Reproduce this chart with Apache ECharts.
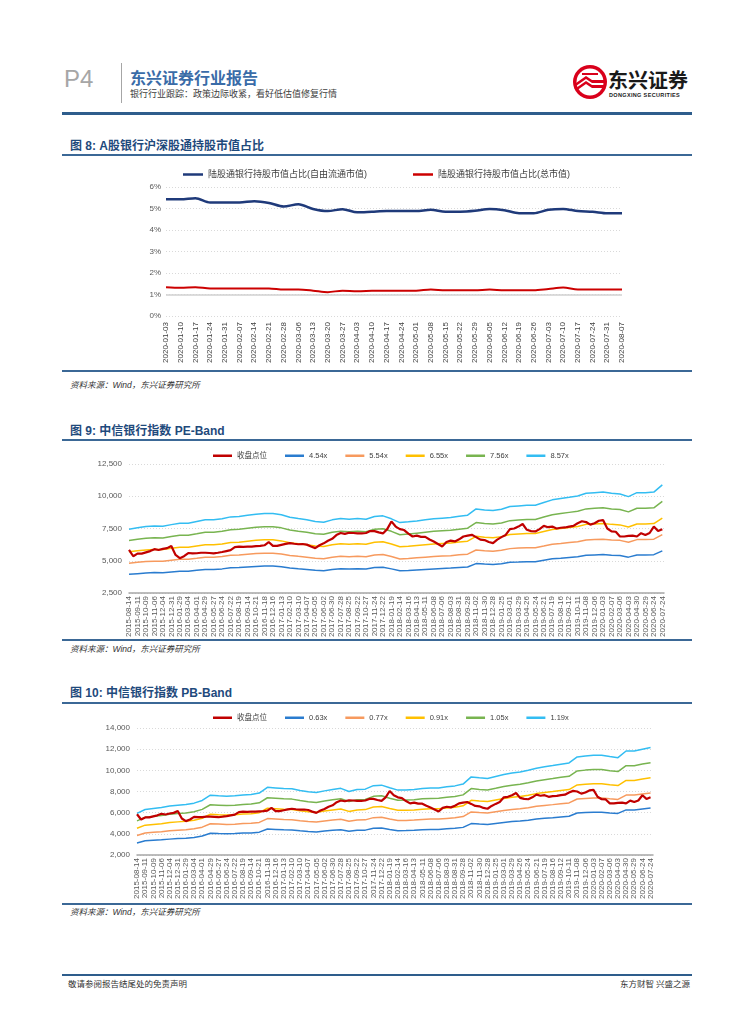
<!DOCTYPE html>
<html><head><meta charset="utf-8">
<script src="https://cdn.jsdelivr.net/npm/echarts@6/dist/echarts.min.js"></script>
<style>
html,body{margin:0;padding:0;background:#fff;}
body{width:755px;height:1024px;position:relative;overflow:hidden;font-family:"Noto Sans CJK SC","Liberation Sans",sans-serif;}
.abs{position:absolute;white-space:nowrap;line-height:1;}
.hl{position:absolute;left:62px;width:630px;}
.ftitle{left:70px;font-size:12px;font-weight:bold;color:#1f4a7c;font-family:"Liberation Sans","Noto Sans CJK SC",sans-serif;}
.src{left:70px;font-size:8.5px;font-style:italic;color:#333;font-family:"Liberation Sans","Noto Sans CJK SC",sans-serif;}
.chart{position:absolute;left:60px;width:640px;}
</style></head><body>

<div class="abs" style="left:64px;top:67px;font-size:24px;color:#a6a6a6;font-family:'Liberation Sans',sans-serif;">P4</div>
<div class="abs" style="left:121px;top:63px;width:1px;height:40px;background:#a6a6a6;"></div>
<div class="abs" style="left:130px;top:69px;font-size:16px;font-weight:bold;color:#3a6ca8;">东兴证券行业报告</div>
<div class="abs" style="left:130px;top:89px;font-size:9px;color:#404040;">银行行业跟踪：政策边际收紧，看好低估值修复行情</div>

<svg class="abs" style="left:572px;top:64px;" width="36" height="36" viewBox="0 0 36 36">
  <circle cx="18" cy="18" r="17" fill="#d9001b"/>
  <circle cx="18" cy="18" r="13.5" fill="#fff"/>
  <path d="M4 19 L14 12 L20 16 L32 16 L32 19 L20 19 L14 15 L4 22 Z" fill="#d9001b"/>
  <path d="M4 24 L14 17 L20 21 L32 21 L32 24 L20 24 L14 20 L4 27 Z" fill="#d9001b"/>
  <path d="M10 9 L26 9 L26 11 L10 11 Z" fill="#d9001b"/>
</svg>
<div class="abs" style="left:608px;top:70px;font-size:20px;font-weight:bold;color:#1a1a1a;">东兴证券</div>
<div class="abs" style="left:609px;top:93px;font-size:5.5px;font-weight:bold;color:#1a1a1a;letter-spacing:0.35px;font-family:'Liberation Sans',sans-serif;">DONGXING SECURITIES</div>

<div class="hl" style="top:112px;height:3px;background:#2e5d8c;"></div>

<div class="abs ftitle" style="top:140px;">图 8: A股银行沪深股通持股市值占比</div>
<div class="hl" style="top:154px;height:1.5px;background:#3b6896;"></div>
<div id="c8" class="chart" style="top:158px;height:212px;"></div>
<div class="hl" style="top:370px;height:1.5px;background:#3b6896;"></div>
<div class="abs src" style="top:381px;">资料来源：Wind，东兴证券研究所</div>

<div class="abs ftitle" style="top:425px;">图 9: 中信银行指数 PE-Band</div>
<div class="hl" style="top:439px;height:1.5px;background:#3b6896;"></div>
<div id="c9" class="chart" style="top:443px;height:196px;"></div>
<div class="hl" style="top:639px;height:1.5px;background:#3b6896;"></div>
<div class="abs src" style="top:645px;">资料来源：Wind，东兴证券研究所</div>

<div class="abs ftitle" style="top:687px;">图 10: 中信银行指数 PB-Band</div>
<div class="hl" style="top:702px;height:1.5px;background:#3b6896;"></div>
<div id="c10" class="chart" style="top:705px;height:198px;"></div>
<div class="hl" style="top:903px;height:1.5px;background:#3b6896;"></div>
<div class="abs src" style="top:908px;">资料来源：Wind，东兴证券研究所</div>

<div class="hl" style="top:974px;height:2px;background:#2e5d8c;"></div>
<div class="abs" style="left:68px;top:979px;font-size:8.5px;color:#333;">敬请参阅报告结尾处的免责声明</div>
<div class="abs" style="right:65px;top:979px;font-size:8.5px;color:#333;">东方财智 兴盛之源</div>

<script>
// ---------- Figure 8 data ----------
const dates8 = ['2020-01-03','2020-01-10','2020-01-17','2020-01-24','2020-01-31','2020-02-07','2020-02-14','2020-02-21','2020-02-28','2020-03-06','2020-03-13','2020-03-20','2020-03-27','2020-04-03','2020-04-10','2020-04-17','2020-04-24','2020-05-01','2020-05-08','2020-05-15','2020-05-22','2020-05-29','2020-06-05','2020-06-12','2020-06-19','2020-06-26','2020-07-03','2020-07-10','2020-07-17','2020-07-24','2020-07-31','2020-08-07'];
const shareFree = [5.43,5.43,5.48,5.28,5.28,5.28,5.34,5.26,5.09,5.20,4.98,4.88,4.97,4.82,4.85,4.88,4.88,4.88,4.94,4.85,4.85,4.89,4.98,4.92,4.78,4.78,4.94,4.98,4.88,4.85,4.78,4.78];
const shareTotal = [1.34,1.31,1.34,1.28,1.28,1.28,1.28,1.28,1.23,1.23,1.18,1.11,1.18,1.15,1.17,1.18,1.18,1.18,1.23,1.20,1.20,1.20,1.23,1.20,1.20,1.20,1.26,1.32,1.23,1.23,1.23,1.23];
const yTicks8 = [0, 6, 1];

// ---------- Figure 9/10 shared tick labels ----------
const bandLabels = ['2015-08-14','2015-09-11','2015-10-09','2015-11-06','2015-12-04','2015-12-31','2016-01-29','2016-03-04','2016-04-01','2016-04-29','2016-05-27','2016-06-24','2016-07-22','2016-08-19','2016-09-14','2016-10-21','2016-11-18','2016-12-16','2017-01-13','2017-02-10','2017-03-10','2017-04-07','2017-05-05','2017-06-02','2017-06-30','2017-07-28','2017-08-25','2017-09-22','2017-10-27','2017-11-24','2017-12-22','2018-01-19','2018-02-14','2018-03-16','2018-04-13','2018-05-11','2018-06-08','2018-07-06','2018-08-03','2018-08-31','2018-09-28','2018-11-02','2018-11-30','2018-12-28','2019-01-25','2019-03-01','2019-03-29','2019-04-26','2019-05-24','2019-06-21','2019-07-19','2019-08-16','2019-09-12','2019-10-11','2019-11-08','2019-12-06','2020-01-03','2020-02-07','2020-03-06','2020-04-03','2020-04-30','2020-05-29','2020-06-24','2020-07-24'];

// index close, sampled twice per tick label interval
const closeIdx = [
5850,5350, 5550,5550, 5650,5750, 5900,5830, 5920,5980, 6150,5450, 5200,5350, 5600,5570, 5580,5620, 5620,5600,
5570,5620, 5680,5750, 5820,6050, 6100,6080, 6090,6100, 6130,6150, 6200,6450, 6150,6150, 6230,6310, 6370,6320,
6280,6300, 6250,6100, 5980,6200, 6350,6550, 6700,6990, 7150,7080, 7170,7150, 7120,7120, 7150,7300, 7300,7200,
7120,7450, 8050,7650, 7450,7380, 7100,6880, 6950,6850, 6850,6650, 6490,6300, 6110,6450, 6560,6500, 6660,6880,
6950,7010, 6830,6640, 6600,6450, 6370,6640, 6830,7000, 7450,7500, 7650,7850, 7400,7300, 7270,7450, 7700,7600,
7650,7500, 7560,7580, 7650,7700, 7910,8060, 8000,7800, 7910,8100, 8150,7500, 7270,7250, 6880,6880, 6930,6950,
6880,7140, 7000,7150, 7650,7300, 7450];

// ---------- Figure 9: PE bands (one value per tick label) ----------
const pe454 = [3950,4000,4050,4080,4070,4130,4190,4190,4260,4330,4330,4370,4450,4470,4520,4560,4590,4590,4540,4440,4380,4330,4260,4230,4330,4380,4360,4380,4360,4470,4490,4370,4220,4250,4290,4330,4370,4400,4430,4480,4520,4780,4740,4710,4760,4880,4900,4930,4930,5040,5150,5200,5260,5310,5420,5450,5480,5420,5400,5280,5450,5450,5470,5770];
const pe554 = [4810,4880,4940,4970,4960,5040,5110,5110,5190,5280,5280,5330,5430,5450,5510,5560,5590,5590,5530,5410,5340,5280,5190,5160,5280,5340,5310,5340,5310,5450,5480,5330,5140,5180,5230,5280,5330,5360,5390,5460,5510,5830,5780,5740,5810,5940,5980,6010,6010,6140,6280,6340,6410,6480,6610,6640,6670,6610,6580,6440,6640,6640,6670,7030];
const pe655 = [5690,5770,5840,5880,5870,5960,6040,6040,6140,6240,6240,6300,6420,6440,6520,6580,6620,6620,6540,6400,6320,6240,6140,6100,6240,6320,6280,6320,6280,6440,6480,6300,6080,6120,6180,6240,6300,6340,6380,6460,6520,6890,6830,6790,6870,7030,7070,7110,7110,7270,7430,7500,7580,7660,7820,7850,7890,7820,7780,7620,7850,7850,7880,8310];
const pe756 = [6570,6660,6750,6790,6770,6880,6980,6980,7090,7210,7210,7280,7410,7440,7520,7590,7640,7640,7550,7390,7290,7210,7090,7050,7210,7290,7250,7290,7250,7440,7480,7280,7020,7070,7140,7210,7280,7320,7360,7450,7520,7960,7890,7840,7930,8110,8160,8200,8200,8390,8570,8660,8750,8840,9020,9070,9110,9020,8980,8790,9070,9070,9100,9600];
const pe857 = [7450,7550,7650,7700,7680,7800,7910,7910,8040,8170,8170,8250,8400,8430,8530,8610,8660,8660,8560,8375,8270,8170,8040,7990,8170,8270,8220,8270,8220,8430,8480,8250,7960,8015,8090,8170,8250,8300,8350,8450,8530,9020,8940,8890,8990,9200,9250,9300,9300,9510,9720,9820,9920,10025,10230,10280,10330,10230,10180,9970,10280,10280,10320,10880];
const yTicks9 = [2500, 12500, 2500];

// ---------- Figure 10: PB bands ----------
const pb063 = [3140,3340,3390,3440,3500,3550,3580,3650,3790,4050,4020,4000,4020,4070,4090,4160,4450,4420,4380,4370,4290,4220,4180,4270,4340,4390,4240,4340,4350,4530,4550,4420,4300,4310,4340,4380,4410,4420,4470,4520,4610,4970,4920,4880,4980,5080,5160,5210,5290,5400,5470,5530,5600,5660,5970,6010,6050,6050,5980,5930,6260,6260,6350,6430];
const pb077 = [3840,4080,4140,4200,4280,4340,4380,4470,4630,4950,4920,4890,4910,4970,5000,5080,5440,5400,5360,5340,5240,5160,5110,5220,5300,5370,5180,5300,5320,5530,5570,5400,5260,5270,5300,5360,5390,5400,5460,5520,5630,6070,6010,5970,6090,6210,6310,6370,6470,6600,6680,6760,6850,6920,7290,7340,7390,7390,7310,7250,7660,7660,7770,7860];
const pb091 = [4530,4820,4890,4960,5060,5130,5180,5280,5470,5850,5810,5780,5800,5870,5900,6000,6420,6380,6330,6310,6190,6090,6040,6160,6260,6350,6120,6260,6290,6540,6580,6390,6220,6230,6260,6330,6370,6380,6450,6520,6650,7170,7100,7050,7200,7340,7460,7530,7650,7800,7900,7990,8090,8180,8620,8680,8730,8730,8640,8560,9050,9050,9180,9290];
const pb105 = [5230,5560,5650,5730,5840,5920,5970,6090,6310,6750,6710,6670,6700,6780,6810,6930,7410,7360,7310,7280,7150,7030,6970,7110,7230,7320,7060,7230,7250,7540,7590,7370,7170,7190,7230,7310,7350,7360,7450,7530,7680,8280,8200,8140,8300,8470,8600,8690,8820,9000,9120,9220,9340,9440,9940,10020,10080,10080,9970,9880,10440,10440,10590,10720];
const pb119 = [5930,6300,6400,6490,6620,6710,6770,6900,7150,7650,7600,7560,7590,7680,7720,7850,8400,8340,8280,8250,8100,7970,7900,8060,8190,8300,8000,8190,8220,8550,8600,8350,8130,8150,8190,8280,8330,8340,8440,8530,8700,9380,9290,9220,9410,9600,9750,9850,10000,10200,10330,10450,10580,10700,11270,11350,11420,11420,11300,11200,11830,11830,12000,12150];
const yTicks10 = [2000, 14000, 2000];

const FONT = '"Liberation Sans","Noto Sans CJK SC",sans-serif';
const bandColors = ['#2a7ccf','#f79a5e','#ffc000','#78b450','#33bdf2'];

// ---------- Figure 8 ----------
const c8 = echarts.init(document.getElementById('c8'));
c8.setOption({
  animation:false,
  grid:{left:106,right:78,top:29,bottom:54,outerBoundsMode:'none'},
  legend:{left:118,top:7,icon:'rect',itemWidth:20,itemHeight:2.5,itemGap:46,
    textStyle:{fontSize:9,color:'#404040',fontFamily:FONT}},
  xAxis:{type:'category',data:dates8,boundaryGap:false,
    axisLine:{show:false},axisTick:{show:false},splitLine:{show:false},
    axisLabel:{rotate:90,interval:0,fontSize:8,color:'#404040',margin:6,fontFamily:FONT}},
  yAxis:{type:'value',min:yTicks8[0],max:yTicks8[1],interval:yTicks8[2],
    axisLine:{show:false},axisTick:{show:false},
    splitLine:{lineStyle:{color:'#d9d9d9',type:[1,2],width:1}},
    axisLabel:{formatter:'{value}%',fontSize:8,color:'#595959',margin:5,fontFamily:FONT}},
  series:[
    {name:'陆股通银行持股市值占比(自由流通市值)',type:'line',data:shareFree,symbol:'none',smooth:0.3,
      lineStyle:{color:'#1f3a7a',width:2.5},itemStyle:{color:'#1f3a7a'}},
    {name:'陆股通银行持股市值占比(总市值)',type:'line',data:shareTotal,symbol:'none',smooth:0.3,
      lineStyle:{color:'#cc0000',width:2},itemStyle:{color:'#cc0000'},
      markLine:{silent:true,symbol:'none',label:{show:false},
        lineStyle:{color:'#d0d0d0',type:'solid',width:1.5},data:[{yAxis:1}]}}
  ]
});

// ---------- helpers for band charts ----------
function labelFmt(v){
  const r = Math.round(v);
  return (Math.abs(v - r) < 1e-6 && r >= 0 && r < bandLabels.length) ? bandLabels[r] : '';
}
function bandOption(grid, xmax, yt, names, bands){
  const series = [{
    name:'收盘点位',type:'line',symbol:'none',z:4,
    data:closeIdx.map((v,j)=>[j/2,v]),
    lineStyle:{color:'#c00000',width:2.2},itemStyle:{color:'#c00000'}
  }];
  bands.forEach((arr,k)=>{
    series.push({name:names[k],type:'line',symbol:'none',z:2,
      data:arr.map((v,i)=>[i,v]),
      lineStyle:{color:bandColors[k],width:1.5},itemStyle:{color:bandColors[k]}});
  });
  return {
    animation:false,
    grid:Object.assign({outerBoundsMode:'none'},grid),
    legend:{left:148,top:4,icon:'rect',itemWidth:19,itemHeight:2.5,itemGap:18,
      data:['收盘点位'].concat(names),
      textStyle:{fontSize:7.5,color:'#404040',fontFamily:FONT}},
    xAxis:{type:'value',min:0,max:xmax,interval:1,
      axisLine:{show:true,onZero:false,lineStyle:{color:'#a6a6a6',width:1.5}},
      axisTick:{show:false},splitLine:{show:false},
      axisLabel:{rotate:90,fontSize:8,color:'#595959',margin:3,hideOverlap:false,
        showMinLabel:true,showMaxLabel:true,fontFamily:FONT,formatter:labelFmt}},
    yAxis:{type:'value',min:yt[0],max:yt[1],interval:yt[2],
      axisLine:{show:false},axisTick:{show:false},
      splitLine:{lineStyle:{color:'#d9d9d9',type:[1,2],width:1}},
      axisLabel:{fontSize:8,color:'#595959',margin:7,fontFamily:FONT}},
    series
  };
}

// ---------- Figure 9 ----------
const c9 = echarts.init(document.getElementById('c9'));
c9.setOption(bandOption({left:69,right:36,top:21,bottom:46},63.2,yTicks9,
  ['4.54x','5.54x','6.55x','7.56x','8.57x'],[pe454,pe554,pe655,pe756,pe857]));

// ---------- Figure 10 ----------
const c10 = echarts.init(document.getElementById('c10'));
c10.setOption(bandOption({left:77,right:47,top:23,bottom:48},63.3,yTicks10,
  ['0.63x','0.77x','0.91x','1.05x','1.19x'],[pb063,pb077,pb091,pb105,pb119]));
</script>
</body></html>
